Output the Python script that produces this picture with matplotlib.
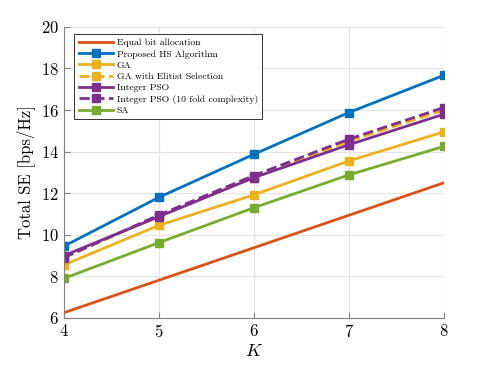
import numpy as np
import matplotlib
matplotlib.use('Agg')
import matplotlib.pyplot as plt

# data
K = [4, 5, 6, 7, 8]
equal_bit = [6.25, 7.8125, 9.375, 10.9375, 12.5]
hs_algo = [9.45, 11.8, 13.87, 15.88, 17.67]
ga = [8.55, 10.45, 11.92, 13.55, 14.95]
ga_elitist = [8.9, 10.9, 12.75, 14.5, 16.0]
pso = [9.0, 10.87, 12.75, 14.33, 15.8]
pso_10 = [8.9, 10.95, 12.85, 14.6, 16.12]
sa = [7.9, 9.62, 11.3, 12.88, 14.25]

plt.rcParams['font.family'] = 'serif'
plt.rcParams['font.serif'] = ['cmr10', 'DejaVu Serif']
plt.rcParams['mathtext.fontset'] = 'cm'
plt.rcParams['axes.formatter.use_mathtext'] = True

c_red = '#D95319'
c_blue = '#0072BD'
c_yel = '#EDB120'
c_pur = '#7E2F8E'
c_grn = '#77AC30'

fig = plt.figure(figsize=(4.91, 3.68), dpi=100)
ax = fig.add_axes([0.130, 0.136, 0.774, 0.791])

lw = 2
ms = 5.5
ax.plot(K, equal_bit, color=c_red, lw=lw, label='Equal bit allocation')
ax.plot(K, hs_algo, color=c_blue, lw=lw, marker='s', ms=ms, label='Proposed HS Algorithm')
ax.plot(K, ga, color=c_yel, lw=lw, marker='s', ms=ms, label='GA')
ax.plot(K, ga_elitist, color=c_yel, lw=lw, ls='--', marker='s', ms=ms, label='GA with Elitist Selection')
ax.plot(K, pso, color=c_pur, lw=lw, marker='s', ms=ms, label='Integer PSO')
ax.plot(K, pso_10, color=c_pur, lw=lw, ls='--', marker='s', ms=ms, label='Integer PSO (10 fold complexity)')
ax.plot(K, sa, color=c_grn, lw=lw, marker='s', ms=ms, label='SA')

ax.set_xlim(4, 8)
ax.set_ylim(6, 20)
ax.set_xticks([4, 5, 6, 7, 8])
ax.set_yticks(np.arange(6, 21, 2))
ax.grid(True, color='#e3e3e3', lw=0.8)
ax.set_axisbelow(True)
for s in ['top', 'right']:
    ax.spines[s].set_visible(False)
for s in ['left', 'bottom']:
    ax.spines[s].set_color('#808080')
    ax.spines[s].set_linewidth(0.8)
ax.tick_params(direction='in', labelsize=12, color='#808080', length=4)

ax.set_xlabel('$K$', fontsize=13, labelpad=2)
ax.set_ylabel('Total SE [bps/Hz]', fontsize=12, labelpad=4)

leg = ax.legend(loc='upper left', bbox_to_anchor=(0.02, 0.985), fontsize=7,
                fancybox=False, edgecolor='#333333', framealpha=1,
                handlelength=3.5, handletextpad=0.4, labelspacing=0.25,
                borderpad=0.45, borderaxespad=0.3)
leg.get_frame().set_linewidth(0.7)

fig.savefig('out.png', dpi=100)
